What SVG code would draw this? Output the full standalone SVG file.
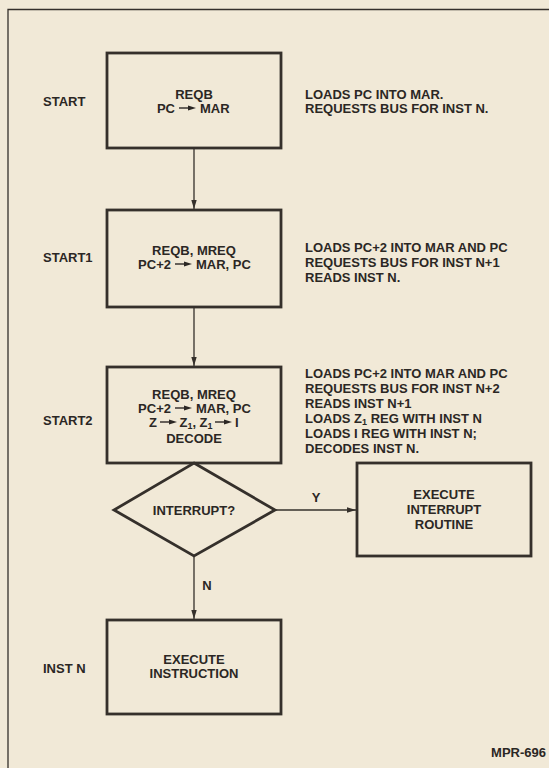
<svg xmlns="http://www.w3.org/2000/svg" width="549" height="768" viewBox="0 0 549 768">
<style>
text{font-family:"Liberation Sans",Arial,sans-serif;font-weight:bold;font-size:13px;fill:#2b2724}
.c{text-anchor:middle}
.e{text-anchor:end}
.box{fill:none;stroke:#35302b;stroke-width:2.8}
.ln{fill:none;stroke:#35302b;stroke-width:1.3}
.sub{font-size:9px}
</style>
<defs>
<marker id="ah" viewBox="0 0 10 10" refX="10" refY="5" markerWidth="9" markerHeight="9" markerUnits="userSpaceOnUse" orient="auto">
<path d="M0,2 L10,5 L0,8 Z" fill="#35302b"/>
</marker>
<g id="ia">
<path d="M0,0 H10" stroke="#2b2724" stroke-width="1.4"/>
<path d="M9,-2.6 L17,0 L9,2.6 Z" fill="#2b2724"/>
</g>
</defs>
<rect width="549" height="768" fill="#f1e9d7"/>
<path d="M8,768 V9.5 H549" class="ln"/>
<g id="start">
<rect x="107" y="53" width="174" height="95" class="box"/>
<text x="194" y="98.5" class="c">REQB</text>
<text x="175" y="112.5" class="e">PC</text>
<use href="#ia" x="179" y="108"/>
<text x="200" y="112.5">MAR</text>
<text x="43" y="105.5">START</text>
<text x="305" y="98.5">LOADS PC INTO MAR.</text>
<text x="305" y="112.5">REQUESTS BUS FOR INST N.</text>
</g>
<g id="start1">
<rect x="107" y="210" width="174" height="97" class="box"/>
<text x="194" y="254.5" class="c">REQB, MREQ</text>
<text x="171" y="268.5" class="e">PC+2</text>
<use href="#ia" x="175" y="264"/>
<text x="196" y="268.5">MAR, PC</text>
<text x="43" y="261.5">START1</text>
<text x="305" y="251.5">LOADS PC+2 INTO MAR AND PC</text>
<text x="305" y="266.5">REQUESTS BUS FOR INST N+1</text>
<text x="305" y="281.5">READS INST N.</text>
</g>
<g id="start2">
<rect x="107" y="367" width="174" height="96" class="box"/>
<text x="194" y="398.5" class="c">REQB, MREQ</text>
<text x="171" y="412.5" class="e">PC+2</text>
<use href="#ia" x="175" y="408"/>
<text x="196" y="412.5">MAR, PC</text>
<text x="157" y="426.5" class="e">Z</text>
<use href="#ia" x="160" y="422"/>
<text x="196" y="426.5" class="c">Z<tspan class="sub" baseline-shift="-2">1</tspan>, Z<tspan class="sub" baseline-shift="-2">1</tspan></text>
<use href="#ia" x="215" y="422"/>
<text x="235" y="426.5">I</text>
<text x="194" y="442.5" class="c">DECODE</text>
<text x="43" y="424.5">START2</text>
<text x="305" y="377.5">LOADS PC+2 INTO MAR AND PC</text>
<text x="305" y="392.5">REQUESTS BUS FOR INST N+2</text>
<text x="305" y="407.5">READS INST N+1</text>
<text x="305" y="422.5">LOADS Z<tspan class="sub" baseline-shift="-2">1</tspan> REG WITH INST N</text>
<text x="305" y="437.5">LOADS I REG WITH INST N;</text>
<text x="305" y="452.5">DECODES INST N.</text>
</g>
<g id="interrupt">
<path d="M194,463 L275,510 L194,556 L114,510 Z" class="box"/>
<text x="194" y="514.5" class="c">INTERRUPT?</text>
</g>
<g id="routine">
<rect x="357" y="463" width="174" height="93" class="box"/>
<text x="444" y="498.5" class="c">EXECUTE</text>
<text x="444" y="513.5" class="c">INTERRUPT</text>
<text x="444" y="528.5" class="c">ROUTINE</text>
</g>
<g id="instn">
<rect x="107" y="620" width="174" height="94" class="box"/>
<text x="194" y="663.5" class="c">EXECUTE</text>
<text x="194" y="677.5" class="c">INSTRUCTION</text>
<text x="43" y="672.5">INST N</text>
</g>
<g id="connectors">
<path d="M194,148 V209" class="ln" marker-end="url(#ah)"/>
<path d="M194,307 V366" class="ln" marker-end="url(#ah)"/>
<path d="M275,510 H356" class="ln" marker-end="url(#ah)"/>
<path d="M194,556 V619" class="ln" marker-end="url(#ah)"/>
<text x="316" y="501.5" class="c">Y</text>
<text x="207" y="589.5" class="c">N</text>
</g>
<text x="546" y="756.5" class="e">MPR-696</text>
</svg>
